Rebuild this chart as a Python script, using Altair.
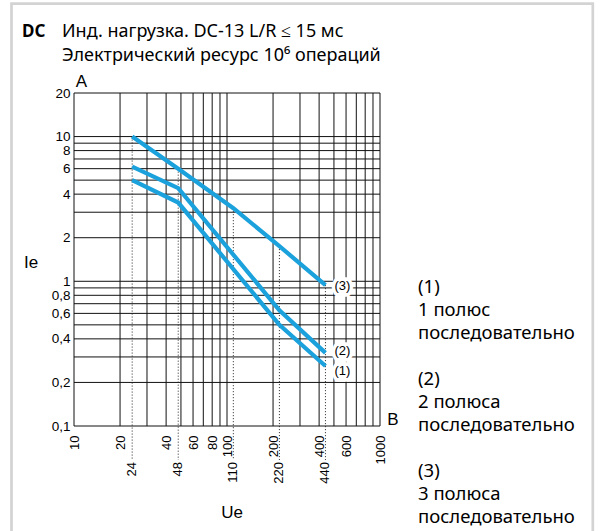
import altair as alt
import pandas as pd

# Switching capacity curves, DC-13 inductive load (Ue in V, Ie in A)
ue_1 = [24, 48, 220, 440]
ie_1 = [5.0, 3.5, 0.5, 0.26]
ue_2 = [24, 48, 220, 440]
ie_2 = [6.2, 4.4, 0.63, 0.32]
ue_3 = [24, 48, 110, 220, 440]
ie_3 = [10.0, 6.0, 3.2, 1.75, 0.94]

curve_names = ["(1)", "(2)", "(3)"]
curve_label_ie = [0.24, 0.33, 0.93]
curve_label_ue = [440, 440, 440]

# Log-paper grid
grid_ue = [10, 20, 30, 40, 50, 60, 70, 80, 90,
           100, 200, 300, 400, 500, 600, 700, 800, 900, 1000]
grid_ie = [0.1, 0.2, 0.3, 0.4, 0.5, 0.6, 0.7, 0.8, 0.9,
           1, 2, 3, 4, 5, 6, 7, 8, 9, 10, 20]
tick_ue = [10, 20, 40, 60, 80, 100, 200, 400, 600, 1000]
tick_ie = [0.1, 0.2, 0.4, 0.6, 0.8, 1, 2, 4, 6, 8, 10, 20]

# Rated voltages marked below the axis
rated_ue = ue_3
rated_ie = ie_3

title_main = "DC"
title_lines = ["Инд. нагрузка. DC-13 L/R ≤ 15 мс",
               "Электрический ресурс 10⁶ операций"]
legend_groups = [["(1)", "1 полюс", "последовательно"],
                 ["(2)", "2 полюса", "последовательно"],
                 ["(3)", "3 полюса", "последовательно"]]

W, H = 306, 333
BLUE = "#1ba1dc"
ARIAL = "Liberation Sans"
ROUND = "Noto Sans"

xs = alt.Scale(type="log", domain=[10, 1000], nice=False)
ys = alt.Scale(type="log", domain=[0.1, 20], nice=False)

x_axis = alt.Axis(values=tick_ue, labelAngle=270, tickSize=0, domain=False,
                  grid=False, labelPadding=9, labelFont=ARIAL, labelFontSize=13,
                  labelColor="black", labelFlush=False, labelOverlap=False,
                  title=None, format="~g")
y_axis = alt.Axis(values=tick_ie, tickSize=0, domain=False, grid=False,
                  labelPadding=4, labelFont=ARIAL, labelFontSize=13.5,
                  labelColor="black", labelOverlap=False, title=None,
                  labelExpr="replace(format(datum.value, '~g'), '.', ',')")

one = pd.DataFrame({"k": [0]})

frame = alt.Chart(one).mark_rect(fill=None, stroke="#d3d3d3", strokeWidth=2.7).encode(
    x=alt.value(-62.5), x2=alt.value(518.8), y=alt.value(-89.3), y2=alt.value(460))

vgrid = alt.Chart(pd.DataFrame({"ue": grid_ue})).mark_rule(
    color="#111", strokeWidth=1).encode(x=alt.X("ue:Q", scale=xs, axis=x_axis))
hgrid = alt.Chart(pd.DataFrame({"ie": grid_ie})).mark_rule(
    color="#111", strokeWidth=1).encode(y=alt.Y("ie:Q", scale=ys, axis=y_axis))

dotted = alt.Chart(pd.DataFrame({"ue": rated_ue, "ie": rated_ie})).mark_rule(
    color="#222", strokeWidth=1, strokeDash=[1, 2]).encode(
    x=alt.X("ue:Q", scale=xs), y=alt.Y("ie:Q", scale=ys), y2=alt.value(367))

rated_labels = alt.Chart(pd.DataFrame({"ue": rated_ue})).mark_text(
    angle=270, align="right", baseline="middle", font=ARIAL, fontSize=13,
    color="black").encode(
    x=alt.X("ue:Q", scale=xs), y=alt.value(369), text=alt.Text("ue:Q", format="d"))

curves_df = pd.concat([
    pd.DataFrame({"ue": ue_1, "ie": ie_1, "curve": curve_names[0]}),
    pd.DataFrame({"ue": ue_2, "ie": ie_2, "curve": curve_names[1]}),
    pd.DataFrame({"ue": ue_3, "ie": ie_3, "curve": curve_names[2]}),
])
curves = alt.Chart(curves_df).mark_line(color=BLUE, strokeWidth=4.2).encode(
    x=alt.X("ue:Q", scale=xs), y=alt.Y("ie:Q", scale=ys), detail="curve:N")

# Curve tags sit on a white patch that hides the grid behind them
lab_df = pd.DataFrame({"ue": curve_label_ue, "ie": curve_label_ie, "name": curve_names})
lab_halo = alt.Chart(lab_df).mark_text(
    font=ARIAL, fontSize=13, color="white", stroke="white", strokeWidth=7,
    strokeJoin="miter", dx=17, baseline="middle").encode(
    x=alt.X("ue:Q", scale=xs), y=alt.Y("ie:Q", scale=ys), text="name:N")
lab_text = alt.Chart(lab_df).mark_text(
    font=ARIAL, fontSize=13, color="black", dx=17, baseline="middle").encode(
    x=alt.X("ue:Q", scale=xs), y=alt.Y("ie:Q", scale=ys), text="name:N")


def note(txt, x, y, font=ARIAL, size=16, weight="normal", align="left",
         baseline="alphabetic", **kw):
    return alt.Chart(one).mark_text(
        text=txt, font=font, fontSize=size, fontWeight=weight, align=align,
        baseline=baseline, color="black", **kw).encode(
        x=alt.value(x), y=alt.value(y))


texts = [
    note(title_main, -52, -56, font=ROUND, size=17, weight="bold"),
    note(title_lines[0], -12, -56, font=ROUND, size=18),
    note(title_lines[1], -12, -32, font=ROUND, size=18),
    note("A", 7.5, -6, size=17, align="center"),
    note("Ie", -43, 175, size=17, align="center"),
    note("B", 319, 332, size=17, align="center"),
    note("Ue", 158, 425, size=17, align="center"),
]
for g, lines in enumerate(legend_groups):
    for i, line in enumerate(lines):
        texts.append(note(line, 344, 194 + 92 * g + 23 * i, font=ROUND, size=18.5,
                          baseline="middle"))

chart = alt.layer(
    frame, vgrid, hgrid, dotted, rated_labels, curves, lab_halo, lab_text, *texts
).properties(
    width=W, height=H,
    autosize=alt.AutoSizeParams(type="none"),
    padding={"left": 74, "top": 93, "right": 222, "bottom": 105},
    background="white",
).configure_view(stroke=None)

chart.save("out.html", embed_options={"renderer": "svg", "actions": False})
